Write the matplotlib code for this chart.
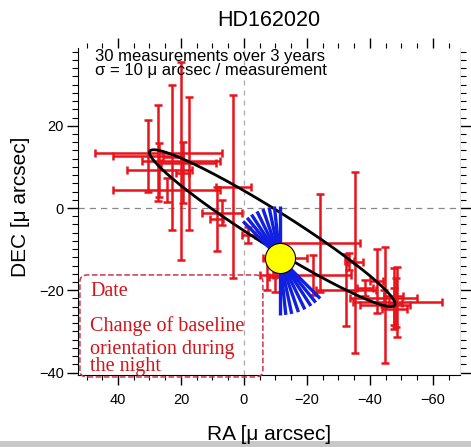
import numpy as np
import matplotlib
matplotlib.use("Agg")
import matplotlib.pyplot as plt
from matplotlib.patches import FancyBboxPatch, Rectangle
from matplotlib.ticker import MultipleLocator
from matplotlib.transforms import ScaledTranslation

plt.rcParams['font.family'] = ['Liberation Sans', 'DejaVu Sans']

# measurements: RA / DEC offsets and their errors (micro-arcsec)
ra = [27.2, 30.4, 20.0, 17.6, 26.9, 22.8, 24.5, 19.5, 3.4, 7.0,
      8.7, -1.4, -24.1, -35.2, -22.0, -32.5, -9.8, -7.2, -44.8, -44.4,
      -48.7, -47.5, -48.2, -47.8, -38.5, -42.1, -33.5, -13.0]
dec = [13.4, 12.7, 11.4, 10.9, 9.2, 12.3, 4.4, 8.6, 5.2, -1.1,
       -2.6, -6.5, -8.5, -13.2, -16.3, -20.0, -16.7, -16.3, -23.6, -22.0,
       -22.8, -21.5, -23.0, -24.5, -19.5, -17.8, -13.0, -12.2]
ra_err = [20.1, 11.2, 12.5, 8.7, 10.3, 3.0, 17.0, 2.0, 5.5, 6.3,
          2.0, 2.1, 12.7, 2.5, 11.9, 9.5, 2.0, 2.0, 8.0, 10.7,
          14.1, 3.0, 2.0, 4.0, 2.5, 2.0, 1.5, 7.0]
dec_err = [11.7, 8.7, 24.1, 16.2, 6.5, 17.7, 3.0, 7.4, 22.2, 3.0,
           7.8, 2.0, 12.0, 22.0, 4.8, 8.7, 3.7, 3.7, 14.2, 2.0,
           8.5, 7.0, 6.0, 5.0, 2.0, 7.8, 2.0, 3.0]

# fitted orbit (centre and two conjugate semi-diameters)
orbit_center = (-9.0, -4.9)
orbit_a = (39.0, 18.4)
orbit_b = (0.0, 5.0)

# star position and baseline orientations (deg from north)
star_ra, star_dec = -11.4, -12.2
baseline_angles = [0, 6, 12, 19, 26, 33, 39, 45]

red = '#e8141c'

fig = plt.figure(figsize=(4.71, 4.47), dpi=100)
ax = fig.add_axes([78 / 471, 1 - 375 / 447, 382 / 471, 327 / 447])
ax.set_xlim(52.7, -68.6)
ax.set_ylim(-40.6, 38.9)

ax.axhline(0, color='#888888', ls=(0, (5, 4)), lw=0.9, zorder=1)
ax.axvline(0, color='#aaaaaa', ls=(0, (4, 4)), lw=0.9, zorder=1)

ax.errorbar(ra, dec, xerr=ra_err, yerr=dec_err, fmt='none', ecolor=red,
            elinewidth=1.8, capsize=3, capthick=1.8, zorder=2)

t = np.linspace(0, 2 * np.pi, 400)
ox = orbit_center[0] + orbit_a[0] * np.cos(t) + orbit_b[0] * np.sin(t)
oy = orbit_center[1] + orbit_a[1] * np.cos(t) + orbit_b[1] * np.sin(t)
ax.plot(ox, oy, color='black', lw=2.0, zorder=3)

# baselines drawn in inches around the star
tr = fig.dpi_scale_trans + ScaledTranslation(star_ra, star_dec, ax.transData)
for ang in baseline_angles:
    a = np.radians(ang)
    ax.plot([-np.sin(a) * 0.52, np.sin(a) * 0.57],
            [np.cos(a) * 0.52, -np.cos(a) * 0.57],
            color='#1020e0', lw=2.4, transform=tr, zorder=4,
            solid_capstyle='butt')

ax.scatter([star_ra], [star_dec], s=470, c='#ffff00', edgecolors='black',
           linewidths=0.8, zorder=5)

# axes styling
ax.spines['top'].set_visible(False)
ax.spines['right'].set_color('#dddddd')
ax.xaxis.set_major_locator(MultipleLocator(20))
ax.xaxis.set_minor_locator(MultipleLocator(5))
ax.yaxis.set_major_locator(MultipleLocator(20))
ax.yaxis.set_minor_locator(MultipleLocator(2))
ax.tick_params(axis='x', which='major', direction='out', length=7, width=1,
               labelsize=10.5, pad=6, top=True)
ax.tick_params(axis='x', which='minor', direction='out', length=3.5,
               width=0.8, top=True)
ax.tick_params(axis='y', which='major', direction='out', length=8, width=1,
               labelsize=10.5, pad=2, right=True)
ax.tick_params(axis='y', which='minor', direction='out', length=4.5,
               width=0.8, right=True)

# note box
box = FancyBboxPatch((0.005, -0.006), 0.479, 0.312,
                     boxstyle='round,pad=0,rounding_size=0.02',
                     transform=ax.transAxes, fill=False, ec='#c8374f',
                     ls='--', lw=1.1, clip_on=False, zorder=6)
ax.add_patch(box)

serif = ['Liberation Serif', 'DejaVu Serif']
note_color = '#d41418'
fig.text(90 / 471, 1 - 292 / 447, 'Date', family=serif, fontsize=14.5,
         color=note_color, va='center')
fig.text(90 / 471, 1 - 326 / 447, 'Change of baseline', family=serif,
         fontsize=14.5, color=note_color, va='center')
fig.text(90 / 471, 1 - 371 / 447, 'orientation during\nthe night',
         family=serif, fontsize=14.5, color=note_color, va='baseline',
         linespacing=0.85)

fig.text(95 / 471, 1 - 75 / 447,
         '30 measurements over 3 years\n\u03c3 = 10 \u03bc arcsec / measurement',
         fontsize=12, va='baseline', linespacing=0.9)

fig.text(269 / 471, 1 - 20 / 447, 'HD162020', fontsize=15.5,
         ha='center', va='center')
fig.text(269 / 471, 1 - 434 / 447, 'RA [\u03bc arcsec]', fontsize=15,
         ha='center', va='center')
fig.text(21 / 471, 1 - 207 / 447, 'DEC [\u03bc arcsec]', fontsize=15,
         ha='center', va='center', rotation=90)

# grey strip along the bottom edge
fig.add_artist(Rectangle((0, 0), 1, 6 / 447, transform=fig.transFigure,
                         color='#c8c8c8', lw=0))

fig.savefig('out.png', dpi=100)
